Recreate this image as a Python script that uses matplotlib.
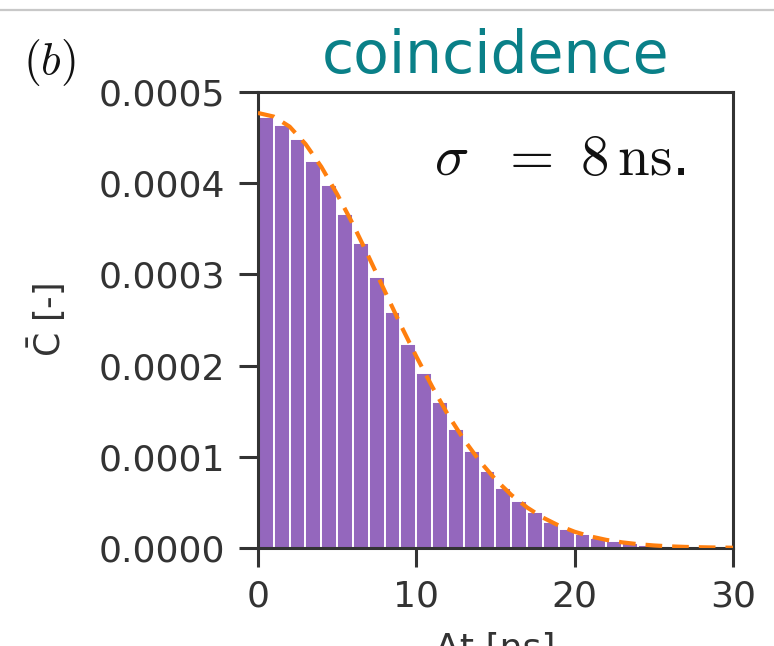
import matplotlib
matplotlib.use("Agg")
import matplotlib.pyplot as plt
from matplotlib.lines import Line2D
from matplotlib.ticker import FormatStrFormatter

plt.rcParams['mathtext.fontset'] = 'cm'

# histogram of coincidences, bins of 1 ns from 0 to 30 ns
bin_left = list(range(0, 30))
counts = [0.000473, 0.000464, 0.000448, 0.000424, 0.000398, 0.000366, 0.000334,
          0.000297, 0.000259, 0.000224, 0.000192, 0.000160, 0.000131, 0.000106,
          0.000084, 0.000066, 0.000051, 0.000039, 0.000029, 0.000021, 0.000015,
          0.000011, 0.0000075, 0.000005, 0.0000033, 0.0000021, 0.0000013,
          0.0000008, 0.0000005, 0.0000003]

# gaussian fit (dashed)
fit_x = list(range(0, 31))
fit_y = [0.000477, 0.000473, 0.000462, 0.000443, 0.000418, 0.000388, 0.000355,
         0.000319, 0.000282, 0.000245, 0.000210, 0.000177, 0.000146, 0.000119,
         0.0000953, 0.0000751, 0.0000582, 0.0000444, 0.0000333, 0.0000246,
         0.0000178, 0.0000127, 0.0000089, 0.0000062, 0.0000042, 0.0000028,
         0.0000018, 0.0000012, 0.0000008, 0.0000005, 0.0000003]

xticks = [0, 10, 20, 30]
yticks = [0.0, 0.0001, 0.0002, 0.0003, 0.0004, 0.0005]

dark = '#333333'

fig = plt.figure(figsize=(7.74, 6.46), dpi=100)
ax = fig.add_axes([0.3333, 0.1517, 0.6137, 0.7059])

ax.bar(bin_left, counts, width=1, align='edge', color='#9467bd',
       edgecolor='white', linewidth=1.4, zorder=2)
ax.plot(fit_x, fit_y, color='#ff7f0e', lw=3, dashes=(4, 2.4), zorder=3)

ax.set_xlim(0, 30)
ax.set_ylim(0, 0.0005)
ax.set_xticks(xticks)
ax.set_yticks(yticks)
ax.yaxis.set_major_formatter(FormatStrFormatter('%.4f'))
ax.tick_params(labelsize=26, colors=dark, labelcolor=dark, length=14, width=2.2)
ax.tick_params(axis='y', pad=10)
ax.tick_params(axis='x', pad=9)
for s in ax.spines.values():
    s.set_linewidth(2.2)
    s.set_color(dark)

ax.set_title('coincidence', fontsize=42, color='#0a8088', pad=14)
ax.set_ylabel(r'$\bar{\mathrm{C}}$ [-]', fontsize=25, color=dark,
              math_fontfamily='dejavusans')
ax.yaxis.set_label_coords(-0.40, 0.5)
ax.set_xlabel('\u0394t [ns]', fontsize=26, color=dark, labelpad=13)

ax.text(0.9, 0.818, r'$\sigma\ \ =\ 8\,\mathrm{ns}$.', transform=ax.transAxes,
        fontsize=41, ha='right', va='baseline', color='#111111')
fig.text(0.03, 0.885, r'$(b)$', fontsize=33, color='#111111')

fig.add_artist(Line2D([0, 1], [0.985, 0.985], color='#c8c8c8', lw=1.6,
                      transform=fig.transFigure))

fig.savefig('out.png', dpi=100)
